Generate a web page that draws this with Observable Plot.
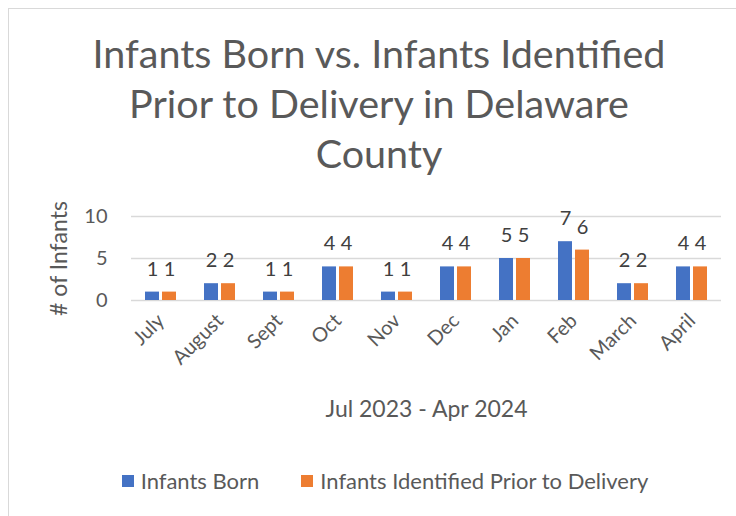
<!DOCTYPE html>
<html>
<head>
<meta charset="utf-8">
<script src="https://cdn.jsdelivr.net/npm/d3@7"></script>
<script src="https://cdn.jsdelivr.net/npm/@observablehq/plot@0.6"></script>
<style>
  html, body { margin: 0; padding: 0; background: #fff; }
  #wrap { position: relative; width: 736px; height: 516px; overflow: hidden; font-family: Lato, "Open Sans", sans-serif; color: #595959; }
  #frame { position: absolute; left: 8px; top: 8px; width: 740px; height: 520px; border-left: 1px solid #d9d9d9; border-top: 1px solid #d9d9d9; }
  #title { position: absolute; left: 0; width: 758px; top: 28px; text-align: center; font-size: 39.5px; line-height: 50px; color: #595959; }
  #chart { position: absolute; left: 0; top: 190px; }
  #chart g[aria-label="y-axis label"] text, #chart g[aria-label="y-axis label"] { font-size: 23px; }
  #chart g[aria-label="fx-axis label"] text, #chart g[aria-label="fx-axis label"] { font-size: 23px; }
  #legend { position: absolute; left: 0; top: 467px; width: 770px; display: flex; justify-content: center; gap: 42px; font-size: 22px; color: #595959; }
  .item { display: flex; align-items: center; }
  .sw { width: 12px; height: 12px; margin-right: 7px; }
</style>
</head>
<body>
<div id="wrap">
  <div id="frame"></div>
  <div id="title">Infants Born vs. Infants Identified<br>Prior to Delivery in Delaware<br>County</div>
  <div id="chart"></div>
  <div id="legend"></div>
</div>
<script>
const months = ["July","August","Sept","Oct","Nov","Dec","Jan","Feb","March","April"];
const seriesNames = ["Infants Born","Infants Identified Prior to Delivery"];
const infantsBorn = [1,2,1,4,1,4,5,7,2,4];
const infantsIdentified = [1,2,1,4,1,4,5,6,2,4];
const yTicks = [0,5,10];
const colors = ["#4472C4","#ED7D31"];

const rows = [];
months.forEach((m, i) => {
  rows.push({month: m, series: seriesNames[0], value: infantsBorn[i]});
  rows.push({month: m, series: seriesNames[1], value: infantsIdentified[i]});
});

const chart = Plot.plot({
  width: 736,
  height: 240,
  marginLeft: 131,
  marginRight: 15,
  marginTop: 26,
  marginBottom: 130,
  style: {fontFamily: "Lato, 'Open Sans', sans-serif", color: "#595959", background: "transparent"},
  fx: {domain: months, paddingInner: 0, paddingOuter: 0},
  x: {domain: seriesNames, paddingInner: 0.18, paddingOuter: 0.82, axis: null},
  y: {domain: [0, 10]},
  color: {domain: seriesNames, range: colors},
  marks: [
    Plot.gridY(yTicks, {stroke: "#d9d9d9", strokeOpacity: 1, strokeWidth: 1.5}),
    Plot.axisY(yTicks, {tickSize: 0, tickPadding: 24, fontSize: 20, fill: "#595959",
      label: "# of Infants", labelAnchor: "center", labelArrow: "none", labelOffset: 81}),
    Plot.axisFx({anchor: "bottom", tickSize: 0, tickPadding: 17, tickRotate: -45, fontSize: 20, fill: "#595959",
      label: "Jul 2023 - Apr 2024", labelAnchor: "center", labelArrow: "none", labelOffset: 116}),
    Plot.barY(rows, {fx: "month", x: "series", y: "value", fill: "series"}),
    Plot.text(rows, {fx: "month", x: "series", y: "value", text: "value", dy: -23, fontSize: 20, fill: "#404040"})
  ]
});
document.getElementById("chart").appendChild(chart);

const legend = document.getElementById("legend");
seriesNames.forEach((s, i) => {
  const it = document.createElement("div");
  it.className = "item";
  const sw = document.createElement("div");
  sw.className = "sw";
  sw.style.background = colors[i];
  const tx = document.createElement("span");
  tx.textContent = s;
  it.appendChild(sw); it.appendChild(tx);
  legend.appendChild(it);
});
</script>
</body>
</html>
